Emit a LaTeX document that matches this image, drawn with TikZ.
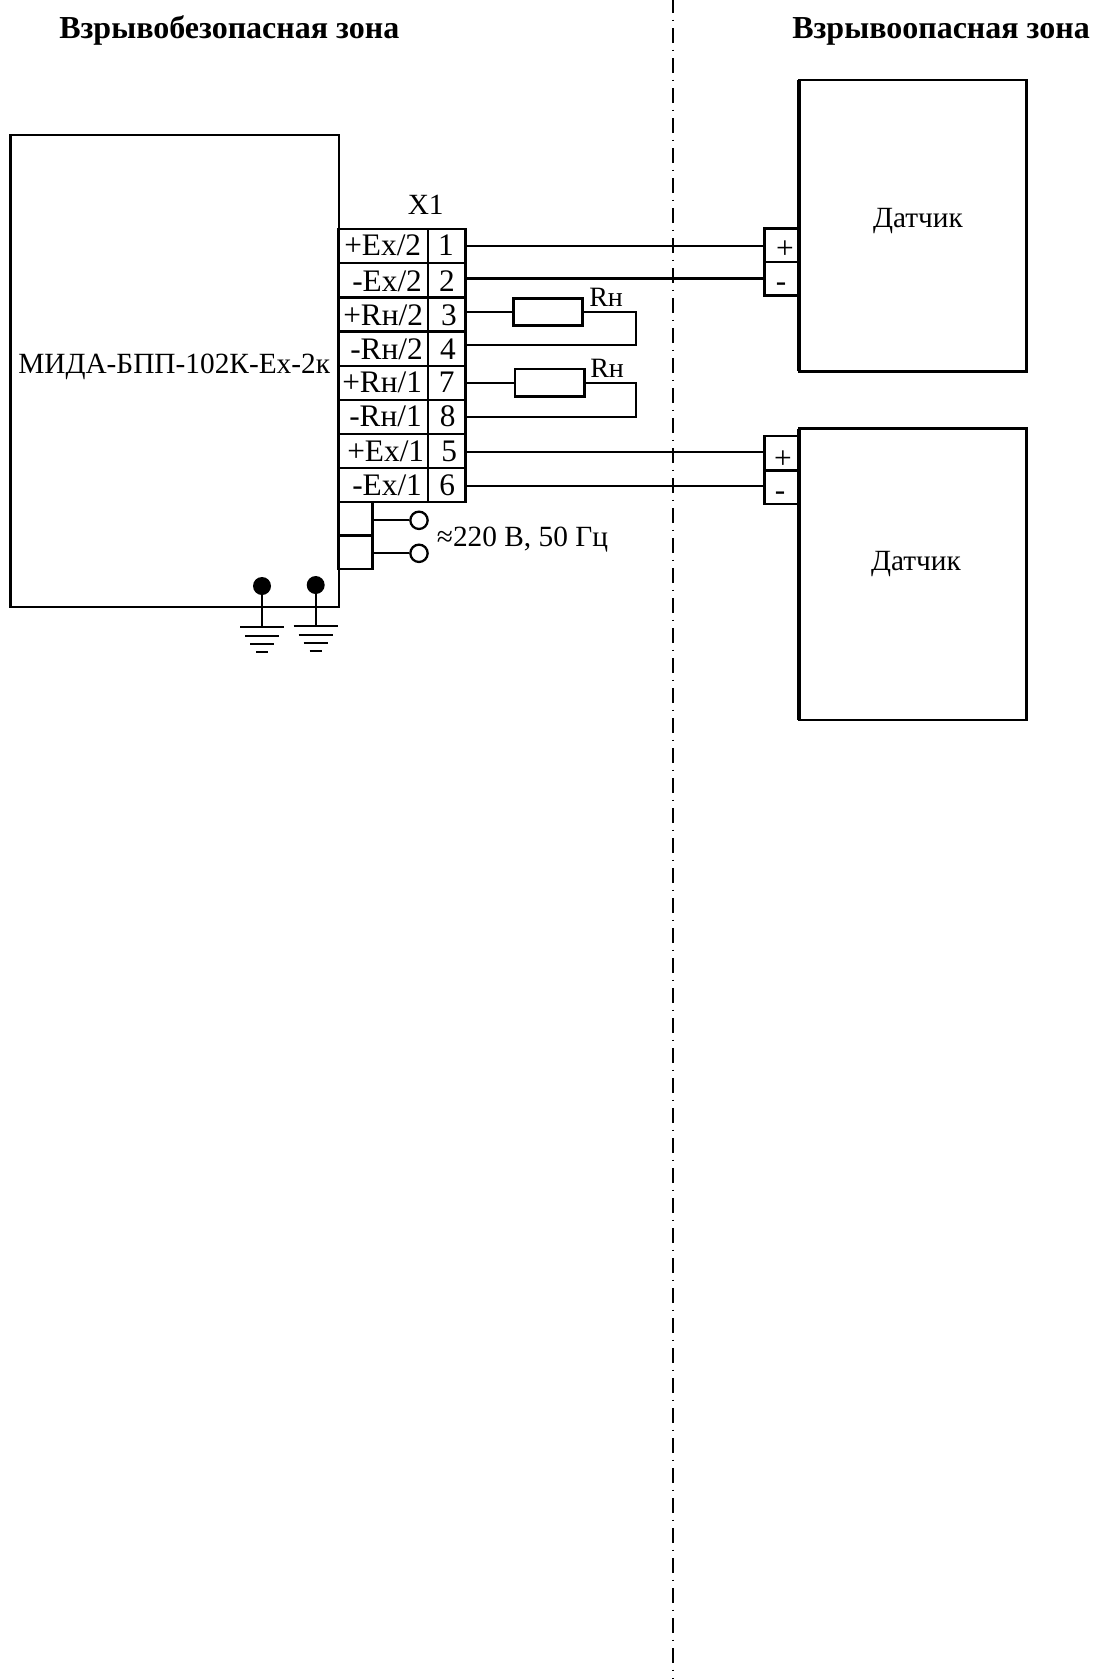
\documentclass[tikz,border=0pt]{standalone}
\usepackage{fontspec}
\setmainfont{Liberation Serif}

\tikzset{
	wire/.style = {line width=1.7pt},
	boxline/.style = {draw, line width=1.8pt, inner sep=0pt, outer sep=0pt, anchor=north west},
	devbox/.style = {boxline, minimum width=246.4pt, minimum height=354pt},
	sensorbox/.style = {boxline, minimum width=170.6pt, minimum height=218.6pt},
	namecell/.style = {boxline, minimum width=67.2pt, minimum height=25.5pt},
	numcell/.style = {boxline, minimum width=28.2pt, minimum height=25.5pt},
	powercell/.style = {boxline, minimum width=25.4pt, minimum height=25pt},
	sensorcell/.style = {boxline, minimum width=26pt, minimum height=25.3pt},
	resistor/.style = {boxline, minimum width=52pt, minimum height=20.5pt},
	lug/.style = {draw, circle, line width=1.7pt, fill=white, minimum size=13pt, inner sep=0pt},
	pin/.style = {circle, fill=black, minimum size=13.5pt, inner sep=0pt},
	txt/.style = {inner sep=0pt, anchor=base west, font=\fontsize{23.5}{23.5}\selectfont},
	txtc/.style = {inner sep=0pt, anchor=base, font=\fontsize{23.5}{23.5}\selectfont},
	plain/.style = {inner sep=0pt, anchor=base west, font=\fontsize{22}{22}\selectfont},
	title/.style = {inner sep=0pt, anchor=base west, font=\fontsize{24}{24}\selectfont\bfseries}
}

\begin{document}
\begin{tikzpicture}[x=.75pt, y=-.75pt]
	\useasboundingbox (0,0) rectangle (1094,1679);

	% zone border
	\coordinate (bordertop) at (673.3,-2);
	\coordinate (borderbottom) at (673.3,1679);
	\draw[line width=1.4pt, dash pattern=on 11.25pt off 4.9pt on 1.1pt off 5.25pt] (bordertop) -- (borderbottom);

	\node[title] (safezone) at (59,38) {Взрывобезопасная зона};
	\node[title] (hazardzone) at (792,38) {Взрывоопасная зона};

	% device
	\node[devbox] (device) at (10.5,135) {};
	\node[plain] (devicename) at (18,373) {МИДА-БПП-102К-Ех-2к};
	\node[plain, anchor=base] (xone) at (425.7,214.3) {X1};

	% terminal block
	\node[namecell] (n1) at (338.5,229) {};
	\node[namecell] (n2) at (338.5,263) {};
	\node[namecell] (n3) at (338.5,297.5) {};
	\node[namecell] (n4) at (338.5,332) {};
	\node[namecell] (n7) at (338.5,366) {};
	\node[namecell] (n8) at (338.5,400) {};
	\node[namecell] (n5) at (338.5,434) {};
	\node[namecell] (n6) at (338.5,467.7) {};
	\node[numcell] (t1) at (428,229) {};
	\node[numcell] (t2) at (428,263) {};
	\node[numcell] (t3) at (428,297.5) {};
	\node[numcell] (t4) at (428,332) {};
	\node[numcell] (t7) at (428,366) {};
	\node[numcell] (t8) at (428,400) {};
	\node[numcell] (t5) at (428,434) {};
	\node[numcell] (t6) at (428,467.7) {};

	\node[txt] (l1) at (344,255.7) {+Ex/2};
	\node[txt] (l2) at (352,291) {-Ex/2};
	\node[txt] (l3) at (343,325) {+Rн/2};
	\node[txt] (l4) at (350,359) {-Rн/2};
	\node[txt] (l7) at (342,392.7) {+Rн/1};
	\node[txt] (l8) at (349,426) {-Rн/1};
	\node[txt] (l5) at (347,461) {+Ex/1};
	\node[txt] (l6) at (352,495.7) {-Ex/1};
	\node[txtc] (d1) at (446,255.7) {1};
	\node[txtc] (d2) at (447,291) {2};
	\node[txtc] (d3) at (449,325) {3};
	\node[txtc] (d4) at (448,359) {4};
	\node[txtc] (d7) at (446.7,392.7) {7};
	\node[txtc] (d8) at (447.7,426) {8};
	\node[txtc] (d5) at (449.3,461) {5};
	\node[txtc] (d6) at (447.3,495.7) {6};

	% mains
	\node[powercell] (p1) at (338.5,501.7) {};
	\node[powercell] (p2) at (338.5,535.7) {};
	\node[lug] (lug1) at (419,520.3) {};
	\node[lug] (lug2) at (419,553.3) {};
	\draw[wire] (p1.east |- lug1) -- (lug1);
	\draw[wire] (p2.east |- lug2) -- (lug2);
	\node[plain] (mains) at (436.7,546) {≈220 В, 50 Гц};

	% sensors
	\node[sensorbox] (sensorA) at (799,80) {};
	\node[sensorbox] (sensorB) at (799,428.5) {};
	\node[plain, anchor=base] (nameA) at (918,227) {Датчик};
	\node[plain, anchor=base] (nameB) at (916,570) {Датчик};
	\node[sensorcell] (sa1) at (764.3,228.3) {};
	\node[sensorcell] (sa2) at (764.3,261.7) {};
	\node[sensorcell] (sb1) at (764.3,436) {};
	\node[sensorcell] (sb2) at (764.3,470.3) {};
	\node[txtc] (plusA) at (785,258) {+};
	\node[txtc] (minusA) at (781,291) {-};
	\node[txtc] (plusB) at (783,468) {+};
	\node[txtc] (minusB) at (780,500) {-};
	\draw[line width=2.6pt] (sensorA.north west) -- (sensorA.south west);
	\draw[line width=2.6pt] (sensorB.north west) -- (sensorB.south west);

	% lines to the sensors
	\draw[wire] (t1.east) -- (t1.east -| sa1.west);
	\draw[wire] ([yshift=1.2pt]t2.east) -- ([yshift=1.2pt]t2.east -| sa2.west);
	\draw[wire] ([yshift=-.5pt]t5.east) -- ([yshift=-.5pt]t5.east -| sb1.west);
	\draw[wire] ([yshift=-1pt]t6.east) -- ([yshift=-1pt]t6.east -| sb2.west);

	% load resistors
	\node[resistor] (rA) at (513.3,298.3) {};
	\node[resistor] (rB) at (515,369) {};
	\node[plain, font=\fontsize{21}{21}\selectfont] (labelA) at (589,306) {Rн};
	\node[plain, font=\fontsize{21}{21}\selectfont] (labelB) at (590,377) {Rн};
	\coordinate (returnA) at (635.7,345);
	\coordinate (returnB) at (635.7,417.3);
	\draw[wire] (rA.west -| t3.east) -- (rA.west);
	\draw[wire] (rB.west -| t7.east) -- (rB.west);
	\draw[wire] (rA.east) -| (returnA) -- (returnA -| t4.east);
	\draw[wire] (rB.east) -| (returnB) -- (returnB -| t8.east);

	% earth
	\node[pin] (earthA) at (262,586) {};
	\node[pin] (earthB) at (315.7,585) {};
	\coordinate (barA) at (262,626.7);
	\coordinate (barB) at (315.7,626);
	\draw[wire] (earthA) -- (barA);
	\draw[wire] (earthB) -- (barB);
	\draw[wire] (240,626.7) -- (284,626.7);
	\draw[wire] (245,635.7) -- (279,635.7);
	\draw[wire] (250,643.7) -- (274,643.7);
	\draw[wire] (256,651.7) -- (268,651.7);
	\draw[line width=2.2pt] (293.7,626) -- (337.7,626);
	\draw[wire] (298.7,634.7) -- (332.7,634.7);
	\draw[wire] (303.7,642.7) -- (327.7,642.7);
	\draw[wire] (309.7,651) -- (321.7,651);
\end{tikzpicture}
\end{document}
